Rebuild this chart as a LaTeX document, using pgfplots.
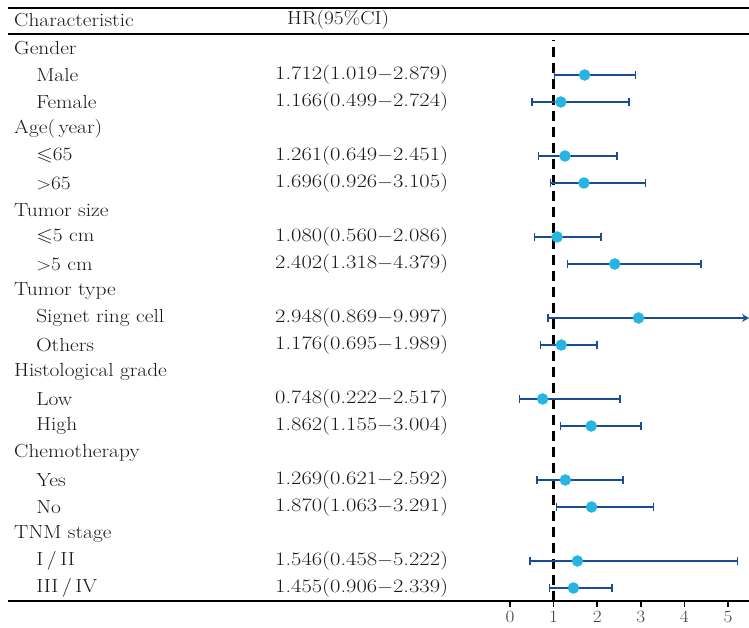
\documentclass[border=0pt]{standalone}
\usepackage{pgfplots}
\usepackage{pgfplotstable}
\usepackage{amssymb}
\pgfplotsset{compat=1.18}
\usetikzlibrary{arrows.meta}
\definecolor{ciblue}{RGB}{24,76,152}
\definecolor{dotcyan}{RGB}{40,180,224}
\pgfplotstableread{
y hr lo hi
553 1.712 1.019 2.879
526 1.166 0.499 2.724
472 1.261 0.649 2.451
445 1.696 0.926 3.105
391 1.080 0.560 2.086
364 2.402 1.318 4.379
283 1.176 0.695 1.989
229 0.748 0.222 2.517
202 1.862 1.155 3.004
148 1.269 0.621 2.592
121 1.870 1.063 3.291
67 1.546 0.458 5.222
40 1.455 0.906 2.339
}\forest
\newcommand{\txt}{\fontsize{19}{22}\selectfont}
\newcommand{\dash}{$-$}
\begin{document}
\begin{tikzpicture}
\begin{axis}[
  scale only axis, width=741bp, height=593bp,
  xmin=-11.5138, xmax=5.4817, ymin=27, ymax=620,
  axis x line*=bottom, axis y line=none,
  axis line style={-, line width=2.2bp, black},
  xtick={0,1,2,3,4,5}, ytick=\empty,
  tick align=outside, major tick length=6bp,
  tick style={line width=1.6bp, black},
  xticklabel style={font=\txt, color=black!75, yshift=-1bp, xscale=1.12},
  clip=false,
]
% reference line
\addplot[black, line width=2.6bp, dash pattern=on 10bp off 6bp] coordinates {(1,27) (1,588)};
% confidence intervals
\addplot[only marks, mark=none,
  error bars/.cd, x dir=both, x explicit, error mark=|,
  error bar style={line width=2bp, ciblue},
  error mark options={ciblue, line width=1.6bp, mark size=4bp}]
  table[x=hr, y=y, x error plus expr=\thisrow{hi}-\thisrow{hr}, x error minus expr=\thisrow{hr}-\thisrow{lo}] {\forest};
% signet ring cell: upper limit 9.997 beyond axis
\addplot[ciblue, line width=2bp, -{Stealth[length=7bp,width=8bp]}] coordinates {(0.869,310) (5.4817,310)};
\addplot[only marks, mark=|, mark size=4bp, mark options={ciblue, line width=1.6bp}] coordinates {(0.869,310)};
% point estimates
\addplot[only marks, mark=*, mark size=5.5bp, mark options={draw=dotcyan, fill=dotcyan}] table[x=hr, y=y] {\forest};
\addplot[only marks, mark=*, mark size=5.5bp, mark options={draw=dotcyan, fill=dotcyan}] coordinates {(2.948,310)};
% rules
\draw[line width=2.4bp] (axis cs:-11.5138,620) -- (axis cs:5.4817,620);
\draw[line width=2.4bp] (axis cs:-11.5138,594) -- (axis cs:5.4817,594);
% text
\def\hx{-11.376}\def\sx{-10.87}\def\vx{-5.39}
\tikzset{lab/.style={anchor=west, inner sep=0pt, font=\txt, text=black!90, xscale=1.13},
         val/.style={lab, xscale=1.19/1.13}}
\node[lab] at (axis cs:\hx,608) {Characteristic};
\node[lab] at (axis cs:-5.115,608) {HR(95\%CI)};
\node[lab] at (axis cs:\hx,580) {Gender};
\node[lab] at (axis cs:\sx,553) {Male};
\node[lab] at (axis cs:\sx,526) {Female};
\node[lab] at (axis cs:\hx,499) {Age(\,year)};
\node[lab] at (axis cs:\sx,472) {$\leqslant$65};
\node[lab] at (axis cs:\sx,445) {$>$65};
\node[lab] at (axis cs:\hx,418) {Tumor size};
\node[lab] at (axis cs:\sx,391) {$\leqslant$5 cm};
\node[lab] at (axis cs:\sx,364) {$>$5 cm};
\node[lab] at (axis cs:\hx,337) {Tumor type};
\node[lab] at (axis cs:\sx,310) {Signet ring cell};
\node[lab] at (axis cs:\sx,283) {Others};
\node[lab] at (axis cs:\hx,256) {Histological grade};
\node[lab] at (axis cs:\sx,229) {Low};
\node[lab] at (axis cs:\sx,202) {High};
\node[lab] at (axis cs:\hx,175) {Chemotherapy};
\node[lab] at (axis cs:\sx,148) {Yes};
\node[lab] at (axis cs:\sx,121) {No};
\node[lab] at (axis cs:\hx,94) {TNM stage};
\node[lab] at (axis cs:\sx,67) {I\,/\,II};
\node[lab] at (axis cs:\sx,40) {III\,/\,IV};
\node[val] at (axis cs:\vx,553) {1.712(1.019\dash2.879)};
\node[val] at (axis cs:\vx,526) {1.166(0.499\dash2.724)};
\node[val] at (axis cs:\vx,472) {1.261(0.649\dash2.451)};
\node[val] at (axis cs:\vx,445) {1.696(0.926\dash3.105)};
\node[val] at (axis cs:\vx,391) {1.080(0.560\dash2.086)};
\node[val] at (axis cs:\vx,364) {2.402(1.318\dash4.379)};
\node[val] at (axis cs:\vx,310) {2.948(0.869\dash9.997)};
\node[val] at (axis cs:\vx,283) {1.176(0.695\dash1.989)};
\node[val] at (axis cs:\vx,229) {0.748(0.222\dash2.517)};
\node[val] at (axis cs:\vx,202) {1.862(1.155\dash3.004)};
\node[val] at (axis cs:\vx,148) {1.269(0.621\dash2.592)};
\node[val] at (axis cs:\vx,121) {1.870(1.063\dash3.291)};
\node[val] at (axis cs:\vx,67) {1.546(0.458\dash5.222)};
\node[val] at (axis cs:\vx,40) {1.455(0.906\dash2.339)};
\coordinate (BL) at (axis cs:-11.6973,0);
\coordinate (TR) at (axis cs:5.4817,628);
\end{axis}
\pgfresetboundingbox
\path[use as bounding box] (BL) rectangle (TR);
\end{tikzpicture}
\end{document}
